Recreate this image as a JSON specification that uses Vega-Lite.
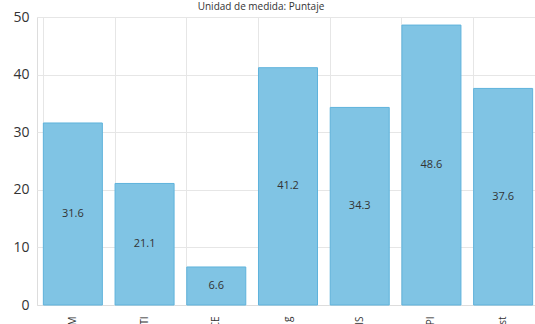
{
  "$schema": "https://vega.github.io/schema/vega-lite/v6.json",
  "autosize": "none",
  "width": 502,
  "height": 288,
  "padding": {"left": 37, "top": 17, "right": 0, "bottom": 19},
  "background": "white",
  "title": {"text": "Unidad de medida: Puntaje", "fontSize": 10, "font": "Open Sans", "fontWeight": "normal", "color": "#333333", "anchor": "middle", "dx": -27, "offset": -2},
  "data": {"values": [
    {"cat": "Categoría M", "v": 31.6},
    {"cat": "Categoría TI", "v": 21.1},
    {"cat": "Categoría CE", "v": 6.6},
    {"cat": "Categoría g", "v": 41.2},
    {"cat": "Categoría IS", "v": 34.3},
    {"cat": "Categoría PI", "v": 48.6},
    {"cat": "Categoría st", "v": 37.6}
  ]},
  "transform": [{"calculate": "datum.v / 2", "as": "mid"}],
  "encoding": {
    "x": {"field": "cat", "type": "nominal", "sort": null, "title": null,
      "scale": {"paddingInner": 0.177, "paddingOuter": 0.0885},
      "axis": {"labelAngle": -90, "labelFont": "Open Sans", "labelFontSize": 10, "labelColor": "#333333", "ticks": false, "domain": true, "domainColor": "#dddddd", "grid": true, "gridColor": "#e6e6e6", "bandPosition": 0, "labelPadding": 11}}
  },
  "layer": [
    {"mark": {"type": "bar", "color": "#80c4e4", "stroke": "#5fb3dc", "strokeWidth": 1},
     "encoding": {"y": {"field": "v", "type": "quantitative", "title": null,
       "scale": {"domain": [0, 50]},
       "axis": {"values": [0, 10, 20, 30, 40, 50], "labelFont": "Open Sans", "labelFontSize": 14, "labelColor": "#333333", "ticks": false, "domain": false, "gridColor": "#e6e6e6", "labelPadding": 8}}}},
    {"mark": {"type": "text", "font": "Open Sans", "fontSize": 11, "color": "#333333", "baseline": "middle"},
     "encoding": {"y": {"field": "mid", "type": "quantitative"},
       "text": {"field": "v", "type": "quantitative", "format": ".1f"}}}
  ]
}
